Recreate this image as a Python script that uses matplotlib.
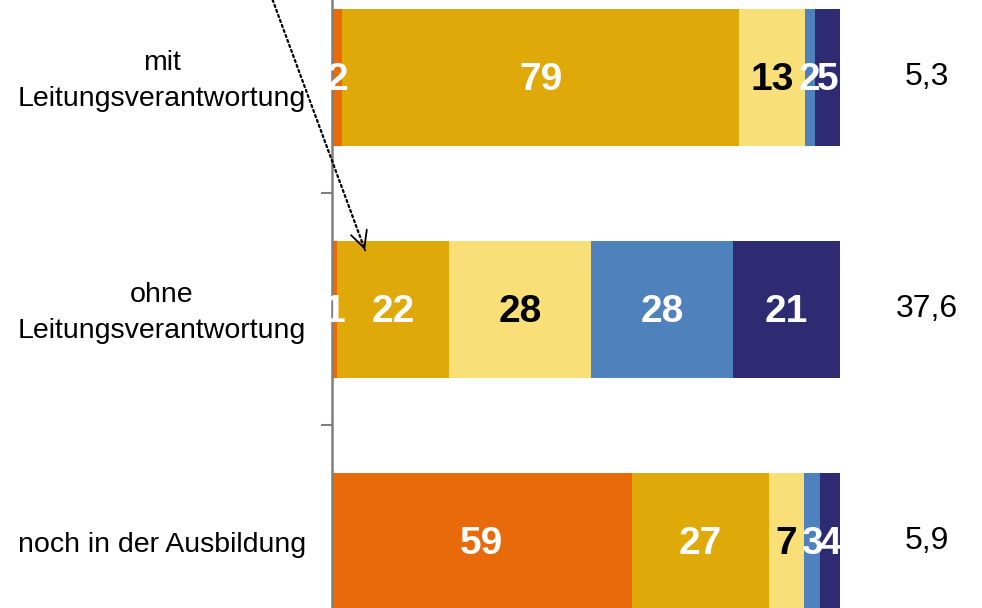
import numpy as np
import matplotlib.pyplot as plt
from matplotlib.transforms import blended_transform_factory

plt.rcParams['font.family'] = ['Liberation Sans', 'DejaVu Sans']

categories = ["mit\nLeitungsverantwortung", "ohne\nLeitungsverantwortung", "noch in der Ausbildung"]
seg1 = [2, 1, 59]
seg2 = [79, 22, 27]
seg3 = [13, 28, 7]
seg4 = [2, 28, 3]
seg5 = [5, 21, 4]
right_labels = ["5,3", "37,6", "5,9"]

colors = ['#E96A0B', '#DFA90A', '#F8DF78', '#4F81BC', '#2F2B72']
text_colors = ['white', 'white', 'black', 'white', 'white']

segments = np.array([seg1, seg2, seg3, seg4, seg5], dtype=float)
# bars are drawn as shares of the row total (rounded labels may add to 101)
shares = segments / segments.sum(axis=0) * 100

fig = plt.figure(figsize=(9.82, 6.08), dpi=100)
ax = fig.add_axes([332 / 982, 0, 508 / 982, 1])

y = np.arange(len(categories))
left = np.zeros(len(categories))
for i in range(len(segments)):
    ax.barh(y, shares[i], left=left, height=0.59, color=colors[i], linewidth=0)
    for j in range(len(categories)):
        ax.text(left[j] + shares[i][j] / 2, y[j] + 0.012, f"{int(segments[i][j])}",
                ha='center', va='center', fontsize=28, fontweight='bold',
                color=text_colors[i])
    left += shares[i]

ax.set_xlim(0, 100)
ax.set_ylim(2.287, -0.334)

trans = blended_transform_factory(ax.transAxes, ax.transData)
for j, cat in enumerate(categories):
    ax.text(-0.335, y[j] + 0.015, cat, transform=trans, ha='center', va='center',
            fontsize=20.5, multialignment='center', linespacing=1.5)
    ax.text(117.1, y[j], right_labels[j], ha='center', va='center', fontsize=23)

# dotted pointer to the small orange segment
ax.annotate('', xy=(6.5, 0.744), xytext=(-14.6, -0.507), annotation_clip=False,
            arrowprops=dict(arrowstyle='-', color='black', lw=1.6,
                            linestyle=(0, (1, 1.4)), shrinkA=0, shrinkB=0))
ax.annotate('', xy=(6.5, 0.744), xytext=(6.2, 0.725), annotation_clip=False,
            arrowprops=dict(arrowstyle='->, head_length=0.6, head_width=0.3',
                            color='black', lw=1.3, mutation_scale=20,
                            shrinkA=0, shrinkB=0))

for s in ['top', 'right', 'bottom']:
    ax.spines[s].set_visible(False)
ax.spines['left'].set_color('#7f7f7f')
ax.spines['left'].set_linewidth(1.8)
ax.set_xticks([])
ax.set_yticks([0.5, 1.5])
ax.set_yticklabels([])
ax.tick_params(axis='y', length=8, width=1.5, color='#7f7f7f')

fig.savefig('out.png', dpi=100)
